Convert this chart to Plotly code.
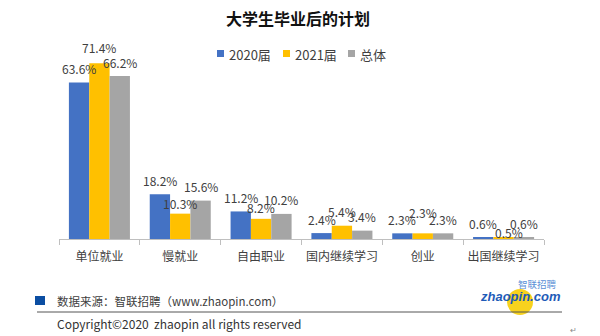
import plotly.graph_objects as go

# ---------------- data ----------------
categories = ["单位就业", "慢就业", "自由职业", "国内继续学习", "创业", "出国继续学习"]
series_names = ["2020届", "2021届", "总体"]
values_2020 = [63.6, 18.2, 11.2, 2.4, 2.3, 0.6]
values_2021 = [71.4, 10.3, 8.2, 5.4, 2.3, 0.5]
values_total = [66.2, 15.6, 10.2, 3.4, 2.3, 0.6]
series_values = [values_2020, values_2021, values_total]

title_text = "大学生毕业后的计划"
source_text = "数据来源：智联招聘（www.zhaopin.com）"
copyright_text = "Copyright©2020  zhaopin all rights reserved"

# ---------------- style ----------------
colors = ["#4472C4", "#FFC000", "#A5A5A5"]
FONT = "Microsoft YaHei, Noto Sans CJK SC, sans-serif"
TXT = "#404040"
W, H = 600, 336
ML, MR, MT, MB = 59, 56, 50, 97
PW, PH = W - ML - MR, H - MT - MB
BARGAP = 0.245
YMAX = 76.8

cat_px = PW / len(categories)
bar_px = cat_px * (1 - BARGAP) / len(series_names)

# label vertical offsets (px above bar top, to label centre); a few nudged as in original
label_shift = {(1, 1): 10, (1, 2): 11, (1, 4): 21, (1, 5): 5, (0, 0): 14, (1, 0): 16}
label_xnudge = {(1, 5): 5}


def px(x):
    return (x - ML) / PW


def py(y):
    return (H - MB - y) / PH


fig = go.Figure()
for i, (name, vals) in enumerate(zip(series_names, series_values)):
    fig.add_trace(go.Bar(
        x=categories, y=vals, name=name,
        marker=dict(color=colors[i], line=dict(width=0)),
        showlegend=False,
    ))

annotations = []
for i, vals in enumerate(series_values):
    for j, v in enumerate(vals):
        annotations.append(dict(
            x=categories[j], y=v, xref="x", yref="y",
            text=f"{v:.1f}%", showarrow=False,
            xshift=(i - 1) * bar_px + label_xnudge.get((i, j), 0),
            yshift=label_shift.get((i, j), 14),
            yanchor="middle", xanchor="center",
            font=dict(family=FONT, size=12, color=TXT),
        ))

# title
annotations.append(dict(x=px(298), y=py(18), xref="paper", yref="paper",
                        text=f"<b>{title_text}</b>", showarrow=False,
                        xanchor="center", yanchor="middle",
                        font=dict(family=FONT, size=16, color="#111111")))

shapes = []
# manual legend
legend_sq_x = [217, 283, 348]
for i, name in enumerate(series_names):
    x0 = legend_sq_x[i]
    shapes.append(dict(type="rect", xref="paper", yref="paper",
                       x0=px(x0), x1=px(x0 + 7), y0=py(57), y1=py(50),
                       fillcolor=colors[i], line=dict(width=0)))
    annotations.append(dict(x=px(x0 + 10), y=py(54), xref="paper", yref="paper",
                            text=name, showarrow=False, xanchor="left", yanchor="middle",
                            font=dict(family=FONT, size=13, color=TXT)))

# footer
shapes.append(dict(type="rect", xref="paper", yref="paper",
                   x0=px(35), x1=px(45), y0=py(305), y1=py(296),
                   fillcolor="#0B4EA2", line=dict(width=0)))
annotations.append(dict(x=px(55), y=py(300.5), xref="paper", yref="paper",
                        text=source_text, showarrow=False, xanchor="left", yanchor="middle",
                        font=dict(family=FONT, size=11.5, color=TXT)))
shapes.append(dict(type="line", xref="paper", yref="paper",
                   x0=px(37), x1=px(562), y0=py(312), y1=py(312),
                   line=dict(color="#555555", width=1)))
annotations.append(dict(x=px(55), y=py(323.5), xref="paper", yref="paper",
                        text=copyright_text, showarrow=False, xanchor="left", yanchor="middle",
                        font=dict(family=FONT, size=12, color="#333333")))

# logo
shapes.append(dict(type="circle", xref="paper", yref="paper", layer="below",
                   x0=px(507), x1=px(533), y0=py(315), y1=py(289),
                   fillcolor="#F7D21E", line=dict(width=0)))
annotations.append(dict(x=px(537), y=py(283.5), xref="paper", yref="paper",
                        text="智联招聘", showarrow=False, xanchor="center", yanchor="middle",
                        font=dict(family=FONT, size=9.5, color="#5B8FD6")))
annotations.append(dict(x=px(520), y=py(296), xref="paper", yref="paper",
                        text="<b><i>zhaopin.com</i></b>", showarrow=False,
                        xanchor="center", yanchor="middle",
                        font=dict(family="Arial, Liberation Sans, sans-serif", size=13, color="#1E5BB8")))
annotations.append(dict(x=px(573), y=py(329), xref="paper", yref="paper",
                        text="↵", showarrow=False, xanchor="center", yanchor="middle",
                        font=dict(family=FONT, size=8, color="#888888")))

fig.update_layout(
    width=W, height=H,
    margin=dict(l=ML, r=MR, t=MT, b=MB, pad=0),
    paper_bgcolor="white", plot_bgcolor="white",
    barmode="group", bargap=BARGAP, bargroupgap=0,
    showlegend=False,
    annotations=annotations, shapes=shapes,
    xaxis=dict(
        showgrid=False, showline=True, linecolor="#BFBFBF", linewidth=1,
        ticks="outside", tickson="boundaries", ticklen=5, tickcolor="#BFBFBF",
        tickfont=dict(family=FONT, size=12, color=TXT), tickangle=0,
        ticklabelstandoff=7, fixedrange=True,
    ),
    yaxis=dict(range=[0, YMAX], visible=False, showgrid=False, zeroline=False, fixedrange=True),
)

fig.write_html("out.html")
